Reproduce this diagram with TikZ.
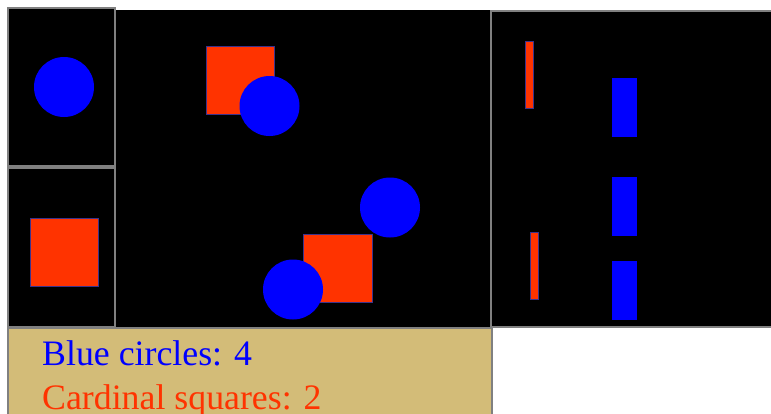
\documentclass[tikz,border=0pt]{standalone}
\usepackage{fontspec}
\setmainfont{Liberation Serif}
\definecolor{cardinal}{RGB}{255,51,0}
\definecolor{pureblue}{RGB}{0,0,255}
\definecolor{edgegray}{RGB}{128,128,128}
\definecolor{tan}{RGB}{211,188,120}
\definecolor{sqedge}{RGB}{60,50,140}
\begin{document}
\begin{tikzpicture}[x=1pt,y=-1pt,
  panel/.style={fill=black, draw=edgegray, line width=2pt},
  redsq/.style={fill=cardinal, draw=sqedge, line width=0.8pt},
  bluedot/.style={fill=pureblue},
  bluebar/.style={fill=pureblue},
  label/.style={anchor=base west, inner sep=0pt, font=\fontsize{35.8}{44}\selectfont}]
\useasboundingbox (0,0) rectangle (771,413);
\clip (0,0) rectangle (771,413);
\fill[white] (0,0) rectangle (771,413);
% middle panel
\fill[black] (116,10) rectangle (490,327);
% right panel
\draw[panel] (491,11) rectangle (775,327);
% left panels
\draw[panel] (8,8) rectangle (115,166);
\draw[panel] (8,168) rectangle (115,327);
% legend box
\draw[fill=tan, draw=edgegray, line width=2pt] (8,328) rectangle (492,420);
% left shapes
\fill[bluedot] (64,87) circle (30);
\draw[redsq] (30,218) rectangle (98,286);
% middle shapes
\draw[redsq] (206,46) rectangle (274,114);
\fill[bluedot] (269.5,106) circle (30);
\draw[redsq] (303,234) rectangle (372,302);
\fill[bluedot] (390,207.5) circle (30);
\fill[bluedot] (293,289.5) circle (30);
% right shapes
\draw[redsq] (525.5,41.5) rectangle (533.5,108.5);
\draw[redsq] (530.5,232) rectangle (538.5,299.5);
\fill[bluebar] (612,78) rectangle (637,137);
\fill[bluebar] (612,177) rectangle (637,235.5);
\fill[bluebar] (612,261) rectangle (637,319.5);
% legend text
\node[label, text=pureblue] (bluecount) at (42,365) {Blue circles: 4};
\node[label, text=cardinal] (redcount) at (42,409) {Cardinal squares: 2};
\end{tikzpicture}
\end{document}
